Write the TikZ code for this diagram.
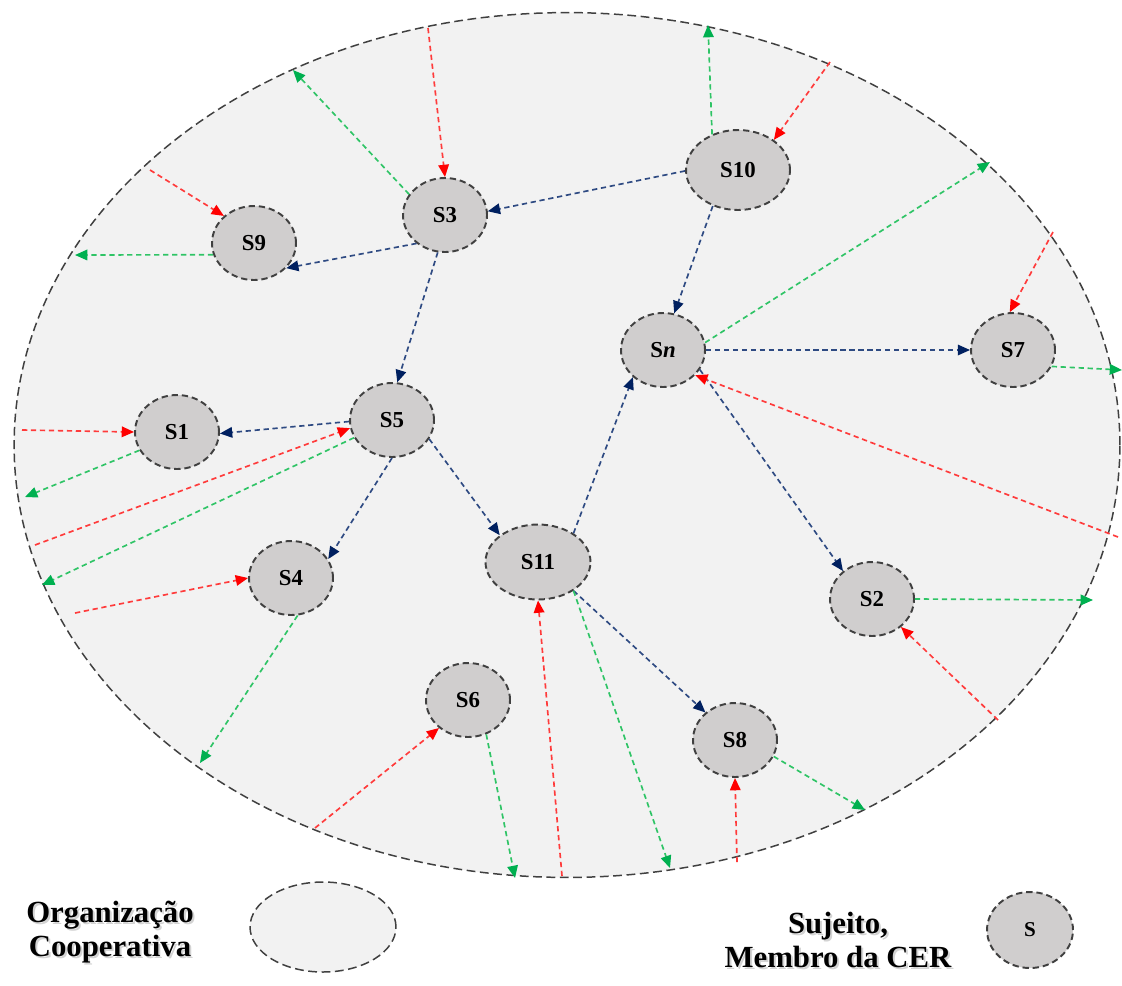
\documentclass[tikz,border=0pt]{standalone}
\usepackage{fontspec}
\setmainfont{Liberation Serif}
\usetikzlibrary{shapes.geometric,arrows.meta}

\definecolor{orgfill}{HTML}{F2F2F2}
\definecolor{subjfill}{HTML}{D0CECE}
\definecolor{edgegrey}{HTML}{404040}
\definecolor{flowblue}{HTML}{2E4A82}
\definecolor{tipblue}{HTML}{002060}
\definecolor{flowred}{HTML}{FF3B3B}
\definecolor{tipred}{HTML}{FF0000}
\definecolor{flowgreen}{HTML}{2FC466}
\definecolor{tipgreen}{HTML}{00B050}

\tikzset{
  org/.style={ellipse, draw=edgegrey, line width=0.85pt, dash pattern=on 5pt off 2.6pt, fill=orgfill},
  subj/.style={ellipse, draw=edgegrey, line width=1.1pt, dash pattern=on 3.6pt off 2.2pt,
    fill=subjfill, inner sep=0pt, minimum width=1.68cm, minimum height=1.48cm,
    font=\fontsize{13}{15}\selectfont\bfseries},
  wide/.style={minimum width=2.08cm, minimum height=1.6cm},
  flow/.style={line width=0.95pt, dash pattern=on 3pt off 2.1pt},
  internal/.style={flow, draw=flowblue, -{Triangle[length=7pt, width=6pt, fill=tipblue, color=tipblue]}},
  inflow/.style={flow, draw=flowred, -{Triangle[length=7pt, width=6pt, fill=tipred, color=tipred]}},
  outflow/.style={flow, draw=flowgreen, -{Triangle[length=7pt, width=6pt, fill=tipgreen, color=tipgreen]}},
  legendtext/.style={align=center, font=\fontsize{17.5}{19.5}\selectfont\bfseries},
  shade/.style={legendtext, text=black!50, opacity=0.35}
}

\begin{document}
\begin{tikzpicture}[x=0.02cm, y=-0.02cm]
  \useasboundingbox (0,0) rectangle (1122,985);

  % the cooperative organisation
  \node[org, minimum width=22.12cm, minimum height=17.3cm] (coop) at (567,445) {};

  % members
  \node[subj] (S3) at (445,215) {S3};
  \node[subj] (S9) at (254,243) {S9};
  \node[subj, wide] (S10) at (738,170) {S10};
  \node[subj] (Sn) at (663,350) {S\textit{n}};
  \node[subj] (S7) at (1013,350) {S7};
  \node[subj] (S1) at (177,432) {S1};
  \node[subj] (S5) at (392,420) {S5};
  \node[subj] (S4) at (291,578) {S4};
  \node[subj, minimum width=2.1cm, minimum height=1.5cm] (S11) at (538,562) {S11};
  \node[subj] (S2) at (872,599) {S2};
  \node[subj] (S6) at (468,700) {S6};
  \node[subj] (S8) at (735,740) {S8};

  % exchanges between members
  \draw[internal] (S10.181) -- (S3.5);
  \draw[internal] (S3.225) -- (S9.322);
  \draw[internal] (S3.259) -- (S5.82);
  \draw[internal] (S10.235) -- (Sn.73);
  \draw[internal] (Sn.0) -- (S7.180);
  \draw[internal] (S5.182) -- (S1.358);
  \draw[internal] (S5.270) -- (S4.27);
  \draw[internal] (S5.333) -- (S11.145);
  \draw[internal] (S11.39) -- (Sn.222);
  \draw[internal] (Sn.332) -- (S2.136);
  \draw[internal] (S11.321) -- (S8.137);

  % inputs from the environment
  \coordinate (r1) at (428,28);
  \coordinate (r2) at (830,62);
  \coordinate (r3) at (150,170);
  \coordinate (r4) at (1053,232);
  \coordinate (r5) at (22,430);
  \coordinate (r6) at (35,545);
  \coordinate (r7) at (75,613);
  \coordinate (r8) at (1118,537);
  \coordinate (r9) at (998,720);
  \coordinate (r10) at (315,828);
  \coordinate (r11) at (562,876);
  \coordinate (r12) at (737,862);
  \draw[inflow] (r1) -- (S3.north);
  \draw[inflow] (r2) -- (S10.40);
  \draw[inflow] (r3) -- (S9.138);
  \draw[inflow] (r4) -- (S7.95);
  \draw[inflow] (r5) -- (S1.180);
  \draw[inflow] (r6) -- (S5.191);
  \draw[inflow] (r7) -- (S4.180);
  \draw[inflow] (r8) -- (Sn.322);
  \draw[inflow] (r9) -- (S2.316);
  \draw[inflow] (r10) -- (S6.224);
  \draw[inflow] (r11) -- (S11.270);
  \draw[inflow] (r12) -- (S8.270);

  % outputs to the environment
  \coordinate (g1) at (293,70);
  \coordinate (g2) at (708,25);
  \coordinate (g3) at (75,255);
  \coordinate (g4) at (990,162);
  \coordinate (g5) at (1122,370);
  \coordinate (g6) at (25,497);
  \coordinate (g7) at (42,585);
  \coordinate (g8) at (200,763);
  \coordinate (g9) at (1093,600);
  \coordinate (g10) at (515,878);
  \coordinate (g11) at (670,868);
  \coordinate (g12) at (865,810);
  \draw[outflow] (S3.150) -- (g1);
  \draw[outflow] (S10.126) -- (g2);
  \draw[outflow] (S9.196) -- (g3);
  \draw[outflow] (Sn.10) -- (g4);
  \draw[outflow] (S7.337) -- (g5);
  \draw[outflow] (S1.206) -- (g6);
  \draw[outflow] (S5.205) -- (g7);
  \draw[outflow] (S4.280) -- (g8);
  \draw[outflow] (S2.0) -- (g9);
  \draw[outflow] (S6.298) -- (g10);
  \draw[outflow] (S11.321) -- (g11);
  \draw[outflow] (S8.337) -- (g12);

  % legend
  \node[shade] at (112,934) {Organização\\Cooperativa};
  \node[legendtext] (legorgtext) at (110,932) {Organização\\Cooperativa};
  \node[org, minimum width=2.92cm, minimum height=1.8cm] (legorg) at (323,927) {};
  \node[shade] at (840,942) {Sujeito,\\Membro da CER};
  \node[legendtext] (legsubjtext) at (838,940) {Sujeito,\\Membro da CER};
  \node[subj, minimum width=1.72cm, minimum height=1.52cm, font=\fontsize{12}{14}\selectfont\bfseries] (legsubj) at (1030,930) {S};
\end{tikzpicture}
\end{document}
